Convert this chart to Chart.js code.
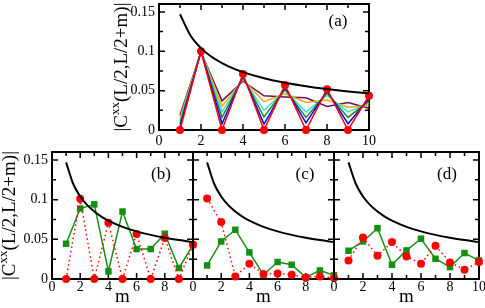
<!DOCTYPE html>
<html>
<head>
<meta charset="utf-8">
<script src="https://cdn.jsdelivr.net/npm/chart.js@4.4.1/dist/chart.umd.min.js"></script>
<style>
html, body { margin: 0; padding: 0; background: #fff; }
#wrap { position: relative; width: 485px; height: 308px; overflow: hidden; }
canvas { position: absolute; left: 0; }
</style>
</head>
<body>
<div id="wrap">
  <canvas id="pa" width="485" height="150" style="top:0px"></canvas>
  <canvas id="pb" width="485" height="163" style="top:145px"></canvas>
  <canvas id="pc" width="485" height="163" style="top:145px"></canvas>
  <canvas id="pd" width="485" height="163" style="top:145px"></canvas>
</div>
<script>
// m values and tick labels
var m = [1, 2, 3, 4, 5, 6, 7, 8, 9, 10];
var xTickLabels = [0, 2, 4, 6, 8, 10];
var yTickLabels = [0, 0.05, 0.1, 0.15];

// black envelope curve
var envM = [1, 1.5, 2, 2.5, 3, 3.5, 4, 5, 6, 7, 8, 9, 10];
var envVal = [0.147, 0.12, 0.104, 0.093, 0.085, 0.0786, 0.0735, 0.0657, 0.06, 0.0556, 0.052, 0.049, 0.0465];

// panel (a)
var aRed = [0, 0.1, 0, 0.071, 0, 0.057, 0, 0.0518, 0, 0.0435];
var aBlue = [0.004, 0.1, 0.008, 0.069, 0.0075, 0.054, 0.009, 0.0497, 0.008, 0.04];
var aGreen = [0.008, 0.1, 0.016, 0.067, 0.0166, 0.052, 0.016, 0.047, 0.016, 0.037];
var aTurq = [0.011, 0.1, 0.023, 0.066, 0.025, 0.05, 0.023, 0.044, 0.023, 0.034];
var aOrange = [0.015, 0.1, 0.03, 0.064, 0.036, 0.046, 0.035, 0.038, 0.029, 0.031];
var aMaroon = [0.0186, 0.099, 0.037, 0.062, 0.0435, 0.042, 0.041, 0.03, 0.035, 0.0277];

// panel (b)
var bRed = [0, 0.101, 0, 0.071, 0, 0.0566, 0, 0.0516, 0, 0.043];
var bGreen = [0.0444, 0.0888, 0.094, 0.0096, 0.085, 0.0377, 0.0377, 0.057, 0.0138, 0.043];

// panel (c)
var cRed = [0.1013, 0.0717, 0.0033, 0.0192, 0.0063, 0.007, 0.0054, 0.002, 0.0033, 0.0012];
var cGreen = [0.0171, 0.0473, 0.062, 0.0335, 0.0054, 0.0214, 0.018, 0.002, 0.0108, 0.0046];

// panel (d)
var dRed = [0.0234, 0.0523, 0.0293, 0.0465, 0.0285, 0.0192, 0.0419, 0.0209, 0.0117, 0.0214];
var dGreen = [0.0356, 0.0473, 0.064, 0.018, 0.036, 0.0507, 0.0255, 0.015, 0.0327, 0.0234];

Chart.defaults.font.family = '"Liberation Serif", "Times New Roman", serif';
Chart.defaults.color = "#000";

function pts(xs, ys) {
    return xs.map(function (x, i) { return { x: x, y: ys[i] }; });
}

function envelope() {
    return {
        data: pts(envM, envVal),
        borderColor: "#000",
        borderWidth: 2,
        pointRadius: 0,
        cubicInterpolationMode: "monotone",
        clip: false,
        order: 0,
    };
}

function thinLine(vals, color) {
    return {
        data: pts(m, vals),
        borderColor: color,
        borderWidth: 1.5,
        pointRadius: 0,
        clip: false,
        order: 2,
    };
}

function redDots(vals, dotted) {
    return {
        data: pts(m, vals),
        borderColor: "#ff0000",
        borderWidth: 1.5,
        borderDash: dotted ? [1.5, 3] : [],
        pointRadius: 4,
        pointBackgroundColor: "#ff0000",
        pointBorderWidth: 0,
        clip: false,
        order: 1,
    };
}

function greenSquares(vals) {
    return {
        data: pts(m, vals),
        borderColor: "#138f13",
        borderWidth: 1.5,
        pointStyle: "rect",
        pointRadius: 4.6,
        pointBackgroundColor: "#138f13",
        pointBorderWidth: 0,
        clip: false,
        order: 1,
    };
}

// inward ticks on all four sides, frame, panel letter and y title
var framePlugin = {
    id: "frame",
    beforeDatasetsDraw: function (chart) {
        var a = chart.chartArea, ctx = chart.ctx;
        var xs = chart.scales.x, ys = chart.scales.y;
        ctx.save();
        ctx.strokeStyle = "#000";
        ctx.lineWidth = 1.5;
        ctx.beginPath();
        xs.ticks.forEach(function (t) {
            var px = xs.getPixelForValue(t.value);
            var len = Math.round(t.value) % 2 === 0 ? 6 : 4;
            ctx.moveTo(px, a.bottom); ctx.lineTo(px, a.bottom - len);
            ctx.moveTo(px, a.top); ctx.lineTo(px, a.top + len);
        });
        ys.ticks.forEach(function (t) {
            var py = ys.getPixelForValue(t.value);
            var len = Math.round(t.value / 0.025) % 2 === 0 ? 6 : 4;
            ctx.moveTo(a.left, py); ctx.lineTo(a.left + len, py);
            ctx.moveTo(a.right, py); ctx.lineTo(a.right - len, py);
        });
        ctx.stroke();
        ctx.lineWidth = 2;
        ctx.strokeRect(a.left, a.top, a.right - a.left, a.bottom - a.top);
        ctx.restore();
    },
    afterDraw: function (chart, args, opts) {
        var ctx = chart.ctx, a = chart.chartArea;
        ctx.save();
        ctx.fillStyle = "#000";
        ctx.font = '17px "Liberation Serif"';
        ctx.textAlign = "center";
        ctx.textBaseline = "middle";
        ctx.fillText(opts.label, opts.lx, opts.ly);
        if (opts.titleX != null) {
            var big = '19px "Liberation Serif"', small = '13px "Liberation Serif"';
            var p1 = "|C", p2 = "xx", p3 = "(L/2,L/2+m)|";
            ctx.font = big;
            var w1 = ctx.measureText(p1).width, w3 = ctx.measureText(p3).width;
            ctx.font = small;
            var w2 = ctx.measureText(p2).width;
            ctx.translate(opts.titleX, (a.top + a.bottom) / 2);
            ctx.rotate(-Math.PI / 2);
            ctx.textAlign = "left";
            ctx.textBaseline = "alphabetic";
            var s = -(w1 + w2 + w3) / 2;
            ctx.font = big;
            ctx.fillText(p1, s, 5);
            ctx.font = small;
            ctx.fillText(p2, s + w1, -3);
            ctx.font = big;
            ctx.fillText(p3, s + w1 + w2, 5);
        }
        ctx.restore();
    },
};

function makePanel(id, cfg) {
    var H = cfg.H, W = 485;
    return new Chart(document.getElementById(id).getContext("2d"), {
        type: "line",
        data: { datasets: cfg.datasets },
        plugins: [framePlugin],
        options: {
            animation: false,
            responsive: false,
            devicePixelRatio: 1,
            events: [],
            layout: { padding: { left: 0, right: W - cfg.right, top: cfg.top, bottom: 0 } },
            plugins: {
                legend: { display: false },
                tooltip: { enabled: false },
                frame: { label: cfg.label, lx: cfg.lx, ly: cfg.ly, titleX: cfg.titleX },
            },
            scales: {
                x: {
                    type: "linear",
                    min: 0,
                    max: 10,
                    grid: { display: false, drawTicks: false },
                    border: { display: false },
                    ticks: {
                        stepSize: 1,
                        autoSkip: false,
                        maxRotation: 0,
                        padding: cfg.xPad,
                        font: { size: 14 },
                        callback: function (v) {
                            if (v === 10 && !cfg.showTen) return "";
                            return xTickLabels.indexOf(v) >= 0 ? String(v) : "";
                        },
                    },
                    title: { display: cfg.mTitle, text: "m", font: { size: 19 }, padding: 0 },
                    afterFit: function (s) {
                        s.height = H - cfg.bottom;
                        s.paddingLeft = 0;
                        s.paddingRight = 0;
                    },
                },
                y: {
                    min: 0,
                    max: 0.16,
                    grid: { display: false, drawTicks: false },
                    border: { display: false },
                    ticks: {
                        display: cfg.showY,
                        stepSize: 0.025,
                        includeBounds: false,
                        autoSkip: false,
                        padding: 4,
                        font: { size: 14 },
                        callback: function (v) {
                            var r = +v.toFixed(3);
                            return yTickLabels.indexOf(r) >= 0 ? String(r) : "";
                        },
                    },
                    afterFit: function (s) {
                        s.width = cfg.left;
                        s.paddingTop = 0;
                        s.paddingBottom = 0;
                    },
                },
            },
        },
    });
}

makePanel("pa", {
    H: 150, left: 159, right: 369, top: 1, bottom: 130, xPad: 3,
    showY: true, showTen: true, mTitle: false,
    label: "(a)", lx: 338, ly: 22, titleX: 122,
    datasets: [
        envelope(),
        redDots(aRed, false),
        thinLine(aBlue, "#0000ff"),
        thinLine(aGreen, "#1a8a1a"),
        thinLine(aTurq, "#40e0d0"),
        thinLine(aOrange, "#ffa500"),
        thinLine(aMaroon, "#6a0d5a"),
    ],
});

makePanel("pb", {
    H: 163, left: 52, right: 193, top: 7, bottom: 134, xPad: 0,
    showY: true, showTen: false, mTitle: true,
    label: "(b)", lx: 161, ly: 30, titleX: 10,
    datasets: [envelope(), redDots(bRed, true), greenSquares(bGreen)],
});

makePanel("pc", {
    H: 163, left: 193, right: 334, top: 7, bottom: 134, xPad: 0,
    showY: false, showTen: false, mTitle: true,
    label: "(c)", lx: 305, ly: 30, titleX: null,
    datasets: [envelope(), redDots(cRed, true), greenSquares(cGreen)],
});

makePanel("pd", {
    H: 163, left: 334, right: 479, top: 7, bottom: 134, xPad: 0,
    showY: false, showTen: true, mTitle: true,
    label: "(d)", lx: 447, ly: 30, titleX: null,
    datasets: [envelope(), redDots(dRed, true), greenSquares(dGreen)],
});
</script>
</body>
</html>
